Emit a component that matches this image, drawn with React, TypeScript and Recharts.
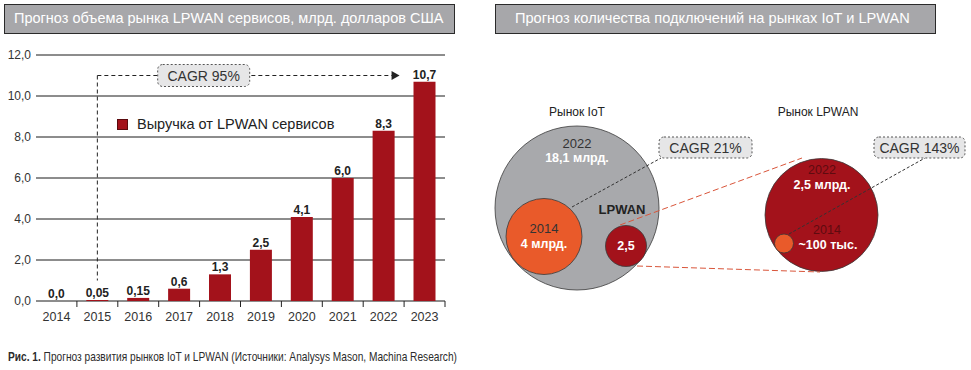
import React from 'react';
import {
  BarChart,
  Bar,
  XAxis,
  YAxis,
  CartesianGrid,
  LabelList,
  Legend,
  ReferenceLine,
  ScatterChart,
  Scatter,
} from 'recharts';

// Left chart: LPWAN services revenue, bn USD
const YEARS = ['2014', '2015', '2016', '2017', '2018', '2019', '2020', '2021', '2022', '2023'];
const REVENUE = [0, 0.05, 0.15, 0.6, 1.3, 2.5, 4.1, 6.0, 8.3, 10.7];
const Y_TICKS = [0, 2, 4, 6, 8, 10, 12];
const SERIES_NAME = 'Выручка от LPWAN сервисов';
const CAGR_REVENUE = 'CAGR 95%';

// Right chart: connections on IoT and LPWAN markets
const MARKET_TITLES = ['Рынок IoT', 'Рынок LPWAN'];
const IOT_YEARS = ['2022', '2014'];
const IOT_VALUES = ['18,1 млрд.', '4 млрд.'];
const IOT_LPWAN = ['LPWAN', '2,5'];
const LPWAN_YEARS = ['2022', '2014'];
const LPWAN_VALUES = ['2,5 млрд.', '~100 тыс.'];
const CAGR_CONNECTIONS = ['CAGR 21%', 'CAGR 143%'];

const TITLE_LEFT = 'Прогноз объема рынка LPWAN сервисов, млрд. долларов США';
const TITLE_RIGHT = 'Прогноз количества подключений на рынках IoT и LPWAN';
const CAPTION_BOLD = 'Рис. 1.';
const CAPTION = ' Прогноз развития рынков IoT и LPWAN (Источники: Analysys Mason, Machina Research)';

const RED = '#a3121b';
const GRAY = '#a8a9ac';
const ORANGE = '#e95a2a';
const FONT = '"Liberation Sans", Arial, sans-serif';

// bar chart geometry
const BAR_W = 460;
const BAR_H = 290;
const BAR_MARGIN = { top: 15, right: 15, left: 0, bottom: 0 };
const Y_AXIS_W = 36;
const X_AXIS_H = 29;
const PLOT_BOTTOM = BAR_H - BAR_MARGIN.bottom - X_AXIS_H;
const BAND = (BAR_W - BAR_MARGIN.left - BAR_MARGIN.right - Y_AXIS_W) / YEARS.length;

// diagram layout (in diagram units = px of the right panel)
const DIAG_W = 491;
const DIAG_H = 230;

const fmt = (v: number) =>
  (Number.isInteger(Math.round(v * 100) / 10) ? v.toFixed(1) : v.toFixed(2)).replace('.', ',');

const barData = YEARS.map((year, i) => ({ year, value: REVENUE[i] }));

const YearTick = (props: any) => {
  const { x, payload } = props;
  return (
    <g>
      <line x1={x + BAND / 2} x2={x + BAND / 2} y1={PLOT_BOTTOM} y2={PLOT_BOTTOM + 6} stroke="#222" />
      <text x={x} y={PLOT_BOTTOM + 16} textAnchor="middle" dominantBaseline="central" fontSize={12.5} fill="#333">
        {payload.value}
      </text>
    </g>
  );
};

const CagrArrow = (props: any) => {
  const { x1, y1, x2 } = props;
  const end = x2 - 25;
  const bx = x1 + (x2 - x1) * 0.325;
  return (
    <g>
      <line x1={x1} y1={y1} x2={end - 7} y2={y1} stroke="#222" strokeDasharray="4 3" />
      <path d={`M${end - 8},${y1 - 4.5} L${end},${y1} L${end - 8},${y1 + 4.5} Z`} fill="#222" />
      <rect x={bx - 46} y={y1 - 11} width={92} height={22} rx={5} fill="#e6e6e7" stroke="#555" strokeDasharray="2 2" />
      <text x={bx} y={y1} textAnchor="middle" dominantBaseline="central" fontSize={14} fill="#333">
        {CAGR_REVENUE}
      </text>
    </g>
  );
};

const LegendContent = (props: any) => (
  <div style={{ display: 'flex', alignItems: 'center', fontFamily: FONT }}>
    {(props.payload || []).map((p: any) => (
      <div key={p.value} style={{ display: 'flex', alignItems: 'center' }}>
        <span style={{ width: 11, height: 11, background: p.color, border: '1px solid #5a0a0e', boxSizing: 'border-box', marginRight: 9 }} />
        <span style={{ fontSize: 14.5, color: '#222' }}>{p.value}</span>
      </div>
    ))}
  </div>
);

// bubble chart data, layout kept apart from the labels
const bubbleLayout = {
  iot2022: { x: 97, y: 118, r: 82 },
  iot2014: { x: 64, y: 146.5, r: 38 },
  iotLpwan: { x: 146, y: 156, r: 20.5 },
  lpwan2022: { x: 341.5, y: 125, r: 56.5 },
  lpwan2014: { x: 304, y: 153.5, r: 9.5 },
};

const darkLinks = [
  [{ x: 92, y: 117 }, { x: 181, y: 68 }],
  [{ x: 309, y: 144 }, { x: 445, y: 68 }],
];
const redLinks = [
  [{ x: 140, y: 135 }, { x: 322, y: 68 }],
  [{ x: 157, y: 176 }, { x: 340, y: 182 }],
];

const titleLabels = [
  { x: 97, y: 22, text: MARKET_TITLES[0] },
  { x: 338, y: 22, text: MARKET_TITLES[1] },
];
const yearLabels = [
  { x: 97, y: 53, text: IOT_YEARS[0] },
  { x: 64, y: 138, text: IOT_YEARS[1] },
];
const yearLabelsRed = [
  { x: 342, y: 80, text: LPWAN_YEARS[0] },
  { x: 347, y: 140, text: LPWAN_YEARS[1] },
];
const valueLabels = [
  { x: 97, y: 68, text: IOT_VALUES[0] },
  { x: 64, y: 154, text: IOT_VALUES[1] },
  { x: 146, y: 156, text: IOT_LPWAN[1] },
  { x: 342, y: 95, text: LPWAN_VALUES[0] },
  { x: 348, y: 155, text: LPWAN_VALUES[1] },
];
const darkBoldLabels = [{ x: 142, y: 119, text: IOT_LPWAN[0] }];
const cagrBoxes = [
  { x: 225.5, y: 57.5, w: 93, text: CAGR_CONNECTIONS[0] },
  { x: 439.5, y: 57.5, w: 91, text: CAGR_CONNECTIONS[1] },
];

const circleShape = (fill: string) => (p: any) =>
  <circle cx={p.cx} cy={p.cy} r={p.payload.r} fill={fill} stroke="#3a3a3a" strokeWidth={0.8} />;

const textShape = (style: any) => (p: any) => (
  <text x={p.cx} y={p.cy} textAnchor="middle" dominantBaseline="central" fontFamily={FONT} {...style}>
    {p.payload.text}
  </text>
);

const boxShape = (p: any) => (
  <g>
    <rect x={p.cx - p.payload.w / 2} y={p.cy - 10.5} width={p.payload.w} height={21} rx={5} fill="#e6e6e7" stroke="#555" strokeDasharray="2 2" />
    <text x={p.cx} y={p.cy} textAnchor="middle" dominantBaseline="central" fontSize={14} fill="#333" fontFamily={FONT}>
      {p.payload.text}
    </text>
  </g>
);

const noShape = () => <g />;

const headerStyle: React.CSSProperties = {
  position: 'absolute',
  top: 4,
  height: 30,
  boxSizing: 'border-box',
  background: '#a7a7aa',
  border: '1.5px solid #2a2a2a',
  color: '#fff',
  lineHeight: '27px',
  whiteSpace: 'nowrap',
  overflow: 'hidden',
};

export default function App() {
  return (
    <div style={{ position: 'absolute', left: 0, top: 0, width: 971, height: 370, background: '#fff', fontFamily: FONT, overflow: 'hidden' }}>
      <div style={{ ...headerStyle, left: 4, width: 451, paddingLeft: 9, fontSize: 14.5 }}>{TITLE_LEFT}</div>
      <div style={{ ...headerStyle, left: 495, width: 441, paddingLeft: 19, fontSize: 14.6 }}>{TITLE_RIGHT}</div>

      <div style={{ position: 'absolute', left: 0, top: 40 }}>
        <BarChart width={BAR_W} height={BAR_H} data={barData} margin={BAR_MARGIN} barCategoryGap="23%">
          <CartesianGrid vertical={false} stroke="#1a1a1a" />
          <XAxis dataKey="year" height={X_AXIS_H} axisLine={false} tickLine={false} interval={0} tick={<YearTick />} />
          <YAxis
            width={Y_AXIS_W}
            domain={[0, 12]}
            ticks={Y_TICKS}
            axisLine={false}
            tickLine={false}
            tickSize={5}
            tickMargin={0}
            tick={{ fill: '#333', fontSize: 12 }}
            tickFormatter={(v: number) => v.toFixed(1).replace('.', ',')}
          />
          <Legend
            layout="horizontal"
            verticalAlign="middle"
            align="center"
            content={<LegendContent />}
            wrapperStyle={{ top: 76, left: 117, width: 'auto' }}
          />
          <ReferenceLine segment={[{ x: '2015', y: 11 }, { x: '2015', y: 1 }]} stroke="#222" strokeDasharray="4 3" ifOverflow="visible" />
          <ReferenceLine segment={[{ x: '2015', y: 11 }, { x: '2023', y: 11 }]} shape={CagrArrow} ifOverflow="visible" />
          <Bar dataKey="value" name={SERIES_NAME} fill={RED} minPointSize={0.01} isAnimationActive={false}>
            <LabelList dataKey="value" position="top" offset={3} formatter={(v: any) => fmt(Number(v))} fill="#222" fontSize={12} fontWeight="bold" />
          </Bar>
        </BarChart>
      </div>

      <div style={{ position: 'absolute', left: 480, top: 90 }}>
        <ScatterChart width={DIAG_W} height={DIAG_H} margin={{ top: 0, right: 0, bottom: 0, left: 0 }}>
          <XAxis type="number" dataKey="x" domain={[0, DIAG_W]} hide allowDataOverflow />
          <YAxis type="number" dataKey="y" domain={[0, DIAG_H]} hide reversed allowDataOverflow />
          <Scatter data={[bubbleLayout.iot2022]} shape={circleShape(GRAY)} isAnimationActive={false} />
          <Scatter data={[bubbleLayout.iot2014]} shape={circleShape(ORANGE)} isAnimationActive={false} />
          <Scatter data={[bubbleLayout.iotLpwan]} shape={circleShape(RED)} isAnimationActive={false} />
          <Scatter data={[bubbleLayout.lpwan2022]} shape={circleShape(RED)} isAnimationActive={false} />
          <Scatter data={[bubbleLayout.lpwan2014]} shape={circleShape(ORANGE)} isAnimationActive={false} />
          {darkLinks.map((d, i) => (
            <Scatter key={`d${i}`} data={d} line={{ stroke: '#333', strokeWidth: 1, strokeDasharray: '3 2' }} shape={noShape} isAnimationActive={false} />
          ))}
          {redLinks.map((d, i) => (
            <Scatter key={`r${i}`} data={d} line={{ stroke: '#d9553a', strokeWidth: 1, strokeDasharray: '6 3' }} shape={noShape} isAnimationActive={false} />
          ))}
          <Scatter data={titleLabels} shape={textShape({ fontSize: 12, fill: '#222' })} isAnimationActive={false} />
          <Scatter data={yearLabels} shape={textShape({ fontSize: 13, fill: '#333' })} isAnimationActive={false} />
          <Scatter data={yearLabelsRed} shape={textShape({ fontSize: 12.5, fill: '#5e0b10' })} isAnimationActive={false} />
          <Scatter data={valueLabels} shape={textShape({ fontSize: 12.5, fill: '#fff', fontWeight: 'bold' })} isAnimationActive={false} />
          <Scatter data={darkBoldLabels} shape={textShape({ fontSize: 13, fill: '#222', fontWeight: 'bold' })} isAnimationActive={false} />
          <Scatter data={cagrBoxes} shape={boxShape} isAnimationActive={false} />
        </ScatterChart>
      </div>

      <div
        style={{
          position: 'absolute',
          left: 8,
          top: 349,
          fontSize: 13.5,
          color: '#2b2b2b',
          whiteSpace: 'nowrap',
          transform: 'scaleX(0.752)',
          transformOrigin: 'left center',
        }}
      >
        <b>{CAPTION_BOLD}</b>
        {CAPTION}
      </div>
    </div>
  );
}
